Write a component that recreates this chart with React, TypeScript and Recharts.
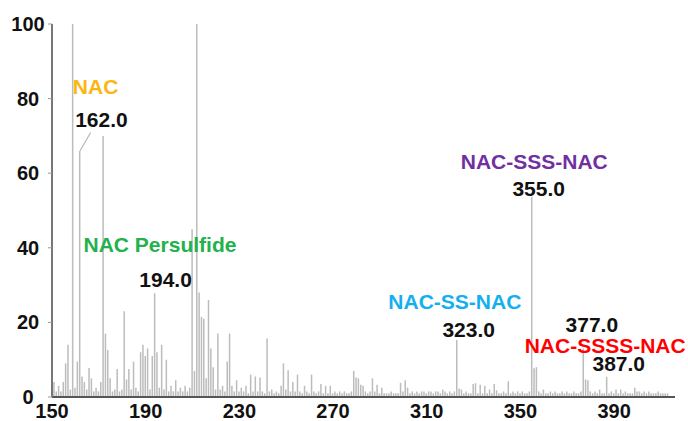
import { Bar, BarChart, ReferenceDot, ReferenceLine, XAxis, YAxis } from "recharts";

// m/z vs relative intensity
const lowMassPeaks: [number, number][] = [
  [151, 4], [152, 1.5], [153, 3], [154, 1.5], [155, 4], [156, 9], [157, 14], [158, 2],
  [159, 100], [160, 2.5], [161, 9.5], [162, 66], [163, 5.5], [164, 4], [165, 2], [166, 7.8],
  [167, 5], [168, 1.5], [169, 2.5], [170, 1.5], [171, 4], [172, 70], [173, 17], [174, 12.6],
  [175, 5], [176, 1.5], [177, 2], [178, 7.5], [179, 1.5], [180, 2], [181, 23], [182, 4.7],
  [183, 7.5], [184, 2], [185, 9.5], [186, 2.5], [187, 1.5], [188, 12], [189, 14], [190, 11],
  [191, 13], [192, 2], [193, 11], [194, 27.8], [195, 12], [196, 2.5], [197, 14], [198, 2],
  [199, 10], [200, 1.5], [201, 3], [202, 1.5], [203, 4.5], [204, 1.5], [205, 2.5], [206, 1.5],
  [207, 3], [208, 1.5], [209, 2.5], [210, 45], [211, 7], [212, 100], [213, 28], [214, 21.5],
  [215, 21], [216, 5], [217, 26], [218, 13], [219, 8], [220, 2], [221, 17], [222, 2],
  [223, 3], [224, 1.5], [225, 9.5], [226, 17], [227, 3], [228, 1.5], [229, 4.5], [230, 1.5],
];

const midMassPeaks: [number, number][] = [
  [231, 2.5], [232, 1.5], [233, 3], [234, 1], [235, 6], [236, 1.5], [237, 5.5], [238, 1.5],
  [239, 5.2], [240, 1.5], [241, 1], [242, 15.7], [243, 1.5], [244, 2], [245, 1], [246, 1.5],
  [247, 1], [248, 3], [249, 9], [250, 2], [251, 7.2], [252, 1.5], [253, 4], [254, 1.5],
  [255, 6], [256, 1.5], [257, 1], [258, 3], [259, 1.5], [260, 1], [261, 6], [262, 1.5],
  [263, 1], [264, 1.5], [265, 3.5], [266, 1], [267, 3], [268, 1], [269, 3], [270, 1],
  [271, 1.5], [272, 1], [273, 1.5], [274, 1], [275, 1.5], [276, 1], [277, 1], [278, 1.5],
  [279, 7], [280, 5.2], [281, 5], [282, 3.3], [283, 3], [284, 1.5], [285, 1], [286, 1.5],
  [287, 5], [288, 1.5], [289, 3.3], [290, 1], [291, 2.5], [292, 1], [293, 1], [294, 1],
  [295, 1.5], [296, 1], [297, 1], [298, 1], [299, 3.8], [300, 1.5], [301, 4.5], [302, 2.5],
  [303, 1], [304, 1.5], [305, 1], [306, 1.5], [307, 1], [308, 1.5], [309, 1.5], [310, 1],
];

const highMassPeaks: [number, number][] = [
  [311, 1.5], [312, 1.5], [313, 1], [314, 1.5], [315, 1.5], [316, 1], [317, 2], [318, 1.5],
  [319, 1], [320, 1.5], [321, 1], [322, 1.5], [323, 15.3], [324, 2.3], [325, 2], [326, 1],
  [327, 1.5], [328, 1], [329, 1], [330, 3.5], [331, 3.7], [332, 1], [333, 3.3], [334, 1],
  [335, 3], [336, 1], [337, 2], [338, 1], [339, 3.5], [340, 1.8], [341, 1], [342, 1],
  [343, 1.5], [344, 1], [345, 4.2], [346, 1], [347, 1.5], [348, 1], [349, 1.5], [350, 1],
  [351, 1.5], [352, 1], [353, 1], [354, 1.5], [355, 53.7], [356, 7.7], [357, 8], [358, 1.5],
  [359, 1], [360, 2], [361, 1], [362, 1], [363, 1.5], [364, 1], [365, 1.5], [366, 1],
  [367, 1], [368, 1.5], [369, 1], [370, 1.5], [371, 1], [372, 1], [373, 1.5], [374, 1],
  [375, 1], [376, 1.5], [377, 13], [378, 4.7], [379, 4.5], [380, 1.5], [381, 1], [382, 1.5],
  [383, 1], [384, 2], [385, 1], [386, 1], [387, 5.4], [388, 1], [389, 1.5], [390, 1],
  [391, 2], [392, 1], [393, 2], [394, 1], [395, 1.5], [396, 1], [397, 1], [398, 1],
  [399, 2.5], [400, 1.5], [401, 1.5], [402, 1], [403, 1.5], [404, 1], [405, 1.5], [406, 1],
  [407, 1], [408, 1], [409, 1.5], [410, 1], [411, 1], [412, 1], [413, 1],
];

const xTicks = [150, 190, 230, 270, 310, 350, 390];
const yTicks = [0, 20, 40, 60, 80, 100];

// annotation text, anchored in data coordinates (m/z, intensity)
const labelTexts = ["NAC", "162.0", "NAC Persulfide", "194.0", "NAC-SSS-NAC", "355.0", "NAC-SS-NAC", "323.0", "377.0", "NAC-SSSS-NAC", "387.0"];
const labelColors = ["#FBB612", "#111", "#22B14C", "#111", "#7030A0", "#111", "#14AFEF", "#111", "#111", "#FF0000", "#111"];
const labelMz = [168.6, 171.1, 196.1, 198.5, 355.9, 357.8, 322, 327.9, 380.5, 386.2, 392];
const labelLevel = [83.1, 74.5, 40.8, 31.6, 63, 56, 25.7, 18.2, 19.3, 13.9, 9.1];

const FONT = "'Liberation Sans', Arial, sans-serif";

const spectrum = [...lowMassPeaks, ...midMassPeaks, ...highMassPeaks].map(([mz, intensity]) => ({
  mz,
  intensity,
}));

function XTick({ x, y, payload }: any) {
  return (
    <text x={x} y={y} dy={13} textAnchor="middle" fill="#111" fontSize={20} fontWeight={700} fontFamily={FONT}>
      {payload.value}
    </text>
  );
}

function YTick({ x, y, payload }: any) {
  return (
    <text x={x - 18} y={y} dy={7} textAnchor="middle" fill="#111" fontSize={20} fontWeight={700} fontFamily={FONT}>
      {payload.value}
    </text>
  );
}

export default function App() {
  return (
    <div style={{ position: "absolute", left: 0, top: 0, background: "#fff" }}>
      <BarChart
        width={688}
        height={421}
        data={spectrum}
        margin={{ top: 24, right: 13, bottom: 0, left: 0 }}
        barGap={0}
      >
        <XAxis
          dataKey="mz"
          type="number"
          domain={[150, 416]}
          ticks={xTicks}
          allowDataOverflow
          height={24}
          tickLine={false}
          axisLine={{ stroke: "#555", strokeWidth: 2 }}
          tick={<XTick />}
        />
        <YAxis
          type="number"
          domain={[0, 100]}
          ticks={yTicks}
          width={52}
          tickSize={4}
          tickLine={{ stroke: "#999" }}
          axisLine={{ stroke: "#777", strokeWidth: 2 }}
          tick={<YTick />}
        />
        <Bar dataKey="intensity" fill="#bcbcbc" barSize={1.5} isAnimationActive={false} />
        <ReferenceLine
          segment={[
            { x: 162, y: 66 },
            { x: 166.5, y: 70.9 },
          ]}
          stroke="#b5b5b5"
          strokeWidth={1.2}
        />
        {labelTexts.map((text, i) => (
          <ReferenceDot
            key={text}
            x={labelMz[i]}
            y={labelLevel[i]}
            r={0}
            fill="none"
            stroke="none"
            label={{
              value: text,
              position: "center",
              fill: labelColors[i],
              fontSize: 21,
              fontWeight: 700,
              fontFamily: FONT,
            }}
          />
        ))}
      </BarChart>
    </div>
  );
}
